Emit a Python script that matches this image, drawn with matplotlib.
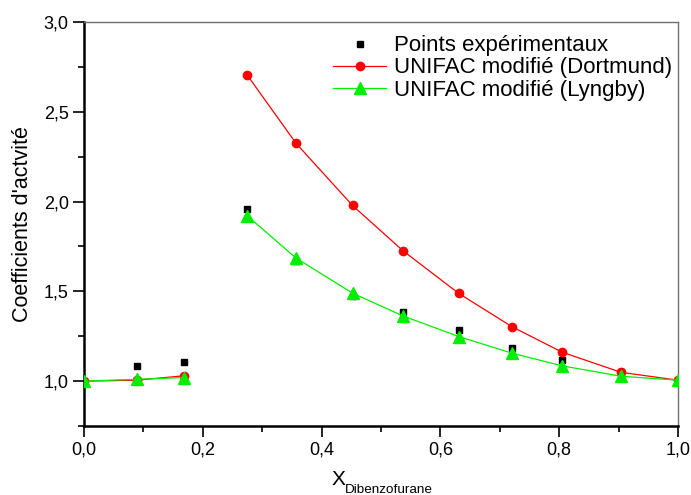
import numpy as np
import matplotlib
matplotlib.use("Agg")
import matplotlib.pyplot as plt
from matplotlib.ticker import MultipleLocator, FuncFormatter

matplotlib.rcParams['font.family'] = ['Liberation Sans', 'DejaVu Sans']

# fraction molaire du dibenzofurane
x_exp = [0.089, 0.169, 0.275, 0.357, 0.452, 0.537, 0.631, 0.721, 0.805, 0.904, 1.0]
gamma_exp = [1.082, 1.108, 1.956, 1.670, 1.473, 1.386, 1.287, 1.183, 1.120, 1.053, 1.0]

# NaN = coupure entre la zone diluee et la zone concentree
x_mod = [0.0, 0.089, 0.169, np.nan, 0.275, 0.357, 0.452, 0.537, 0.631, 0.721, 0.805, 0.904, 1.0]
gamma_dortmund = [1.0, 1.005, 1.030, np.nan, 2.703, 2.324, 1.978, 1.726, 1.488, 1.302, 1.161, 1.049, 1.005]
gamma_lyngby = [1.0, 1.010, 1.020, np.nan, 1.920, 1.685, 1.490, 1.363, 1.248, 1.155, 1.085, 1.027, 1.005]

fig = plt.figure(figsize=(6.91, 4.95), dpi=100)
ax = fig.add_axes([0.1216, 0.1394, 0.8596, 0.8162])

ax.plot(x_exp, gamma_exp, linestyle='none', marker='s', ms=5, color='black',
        label='Points expérimentaux', zorder=2)
ax.plot(x_mod, gamma_dortmund, '-', color='red', lw=0.9, marker='o', ms=6,
        label='UNIFAC modifié (Dortmund)', zorder=3)
ax.plot(x_mod, gamma_lyngby, '-', color='#00ee00', lw=0.9, marker='^', ms=8.5,
        label='UNIFAC modifié (Lyngby)', zorder=4)

ax.set_xlim(0, 1.0)
ax.set_ylim(0.75, 3.0)
ax.xaxis.set_major_locator(MultipleLocator(0.2))
ax.xaxis.set_minor_locator(MultipleLocator(0.1))
ax.yaxis.set_major_locator(MultipleLocator(0.5))
ax.yaxis.set_minor_locator(MultipleLocator(0.25))
comma = FuncFormatter(lambda v, p: f'{v:.1f}'.replace('.', ','))
ax.xaxis.set_major_formatter(comma)
ax.yaxis.set_major_formatter(comma)
ax.tick_params(which='major', direction='out', length=8, width=1.2, labelsize=13, pad=3)
ax.tick_params(which='minor', direction='out', length=4, width=1.2)

for s in ['left', 'bottom']:
    ax.spines[s].set_linewidth(1.8)
for s in ['top', 'right']:
    ax.spines[s].set_color('#707070')
    ax.spines[s].set_linewidth(1.0)

ax.set_ylabel("Coefficients d'actvité", fontsize=15.5, labelpad=8)
fig.text(0.480, 0.021, 'X', fontsize=15, ha='left', va='baseline')
fig.text(0.499, 0.005, 'Dibenzofurane', fontsize=9.7, ha='left', va='baseline')

ax.legend(loc='upper right', bbox_to_anchor=(1.013, 1.0), frameon=False,
          fontsize=16, handlelength=2.4, handletextpad=0.35, labelspacing=0.05,
          borderaxespad=0.2)

fig.savefig('out.png', dpi=100)
